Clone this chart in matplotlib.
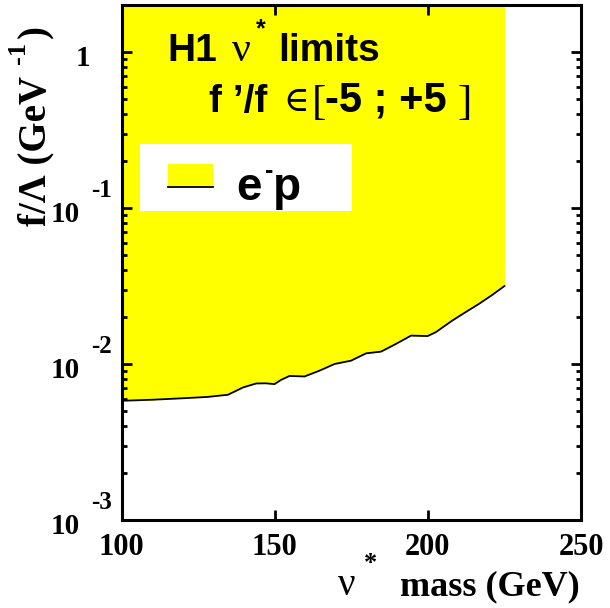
import matplotlib
matplotlib.use("Agg")
import matplotlib.pyplot as plt
from matplotlib.patches import Rectangle
from matplotlib.ticker import FixedLocator, LogLocator, NullFormatter
from matplotlib.transforms import offset_copy

mass = [100, 110, 120, 128, 134.7, 139.6, 143.9, 147, 149.9, 152, 154.8, 159.7,
        164.6, 169.5, 174.9, 179.8, 184.7, 189.6, 194.5, 199.9, 202.6, 208,
        212, 216.7, 221, 225]
limit = [0.00581, 0.00590, 0.00603, 0.00615, 0.00635, 0.00707, 0.00750, 0.00752,
         0.00743, 0.00790, 0.00838, 0.00832, 0.00906, 0.0100, 0.0105, 0.0117,
         0.0120, 0.01346, 0.0152, 0.0151, 0.0160, 0.0190, 0.0213, 0.0243,
         0.0277, 0.0316]

xticks = [100, 150, 200, 250]
xlabels = ["100", "150", "200", "250"]
yticks = [1e-3, 1e-2, 1e-1, 1]
ylab_base = ["10", "10", "10", "1"]
ylab_exp = ["-3", "-2", "-1", ""]

W, H = 610, 608
fig = plt.figure(figsize=(6.1, 6.08), dpi=100)
ax = fig.add_axes([121.7 / W, 1 - 520 / H, (581 - 121.7) / W, (520 - 5) / H])
ax.set_xlim(100, 250)
ax.set_yscale("log")
ax.set_ylim(1e-3, 2.0)

ax.fill_between(mass, limit, 2.0, color="#ffff00", lw=0)
ax.plot(mass, limit, color="black", lw=1.3)

for s in ax.spines.values():
    s.set_linewidth(2.2)
ax.xaxis.set_major_locator(FixedLocator(xticks))
ax.yaxis.set_major_locator(FixedLocator(yticks))
ax.yaxis.set_minor_locator(LogLocator(base=10, subs=range(2, 10)))
ax.yaxis.set_minor_formatter(NullFormatter())
ax.tick_params(which="both", direction="in", top=True, right=True,
               labelbottom=False, labelleft=False)
ax.tick_params(which="major", length=7, width=2)
ax.tick_params(which="minor", length=3.5, width=2)

serif = dict(family="Liberation Serif", weight="bold", color="black")
sans = dict(family="Liberation Sans", weight="bold", color="black")

# tick labels (Times bold, exponent raised like the original)
xt = ax.get_xaxis_transform()
for v, t in zip(xticks, xlabels):
    ax.text(v, -0.054, t, transform=xt, ha="center", va="center", fontsize=22, **serif)
yt = ax.get_yaxis_transform()
yt_lo = offset_copy(yt, fig=fig, x=0, y=-7, units="dots")
yt_hi = offset_copy(yt, fig=fig, x=0, y=17, units="dots")
for v, b, e in zip(yticks, ylab_base, ylab_exp):
    if e:
        ax.text(-0.090, v, b, transform=yt_lo, ha="right", va="center", fontsize=21, **serif)
        ax.text(-0.067, v, e, transform=yt_hi, ha="left", va="center", fontsize=18, **serif)
    else:
        ax.text(-0.068, v, b, transform=yt_lo, ha="right", va="center", fontsize=21, **serif)

def px(x, y):
    return x / W, 1 - y / H

# x axis title
fig.text(*px(338, 595), "ν", ha="left", va="baseline", fontsize=28,
         family="Liberation Serif", color="black")
fig.text(*px(364, 570), "*", ha="left", va="baseline", fontsize=19, **serif)
fig.text(*px(580, 595), "mass (GeV)", ha="right", va="baseline", fontsize=26, **serif)

# y axis title: rotated pieces, exponent sits on the left (raised) side
fig.text(*px(45, 226), "f/Λ (GeV", ha="left", va="baseline", rotation=90,
         rotation_mode="anchor", fontsize=28, **serif)
fig.text(*px(25, 64), "-1", ha="left", va="baseline", rotation=90,
         rotation_mode="anchor", fontsize=19, **serif)
fig.text(*px(45, 38), ")", ha="left", va="baseline", rotation=90,
         rotation_mode="anchor", fontsize=28, **serif)

# header text inside the plot
fig.text(*px(167, 61), "H1", ha="left", va="baseline", fontsize=28, **sans)
fig.text(*px(232, 61), "ν", ha="left", va="baseline", fontsize=30,
         family="Liberation Serif", color="black")
fig.text(*px(256, 36), "*", ha="left", va="baseline", fontsize=18, **sans)
fig.text(*px(278, 61), "limits", ha="left", va="baseline", fontsize=28, **sans)
fig.text(*px(209, 112), "f \u2019/f", ha="left", va="baseline", fontsize=28, **sans)
fig.text(*px(283, 111), "\u2208", ha="left", va="baseline", fontsize=25,
         family="DejaVu Serif", color="black")
fig.text(*px(312, 114), "[", ha="left", va="baseline", fontsize=31,
         family="Liberation Serif", color="black")
fig.text(*px(325, 112), "-5 ; +5", ha="left", va="baseline", fontsize=30, **sans)
fig.text(*px(457, 114), "]", ha="left", va="baseline", fontsize=31,
         family="Liberation Serif", color="black")

# legend box
ax.add_patch(Rectangle((140 / W, 1 - 211 / H), 212 / W, 67 / H, transform=fig.transFigure,
                       facecolor="white", edgecolor="none", zorder=5))
ax.add_patch(Rectangle((168 / W, 1 - 187 / H), 45 / W, 23 / H, transform=fig.transFigure,
                       facecolor="#ffff00", edgecolor="none", zorder=6))
ax.plot([168 / W, 213 / W], [1 - 187 / H, 1 - 187 / H], transform=fig.transFigure,
        color="black", lw=1.3, zorder=7)
fig.text(*px(236, 200), "e", ha="left", va="baseline", fontsize=33, zorder=8, **sans)
fig.text(*px(265, 178), "-", ha="left", va="baseline", fontsize=18, zorder=8, **sans)
fig.text(*px(273, 200), "p", ha="left", va="baseline", fontsize=33, zorder=8, **sans)

fig.savefig("out.png", dpi=100)
